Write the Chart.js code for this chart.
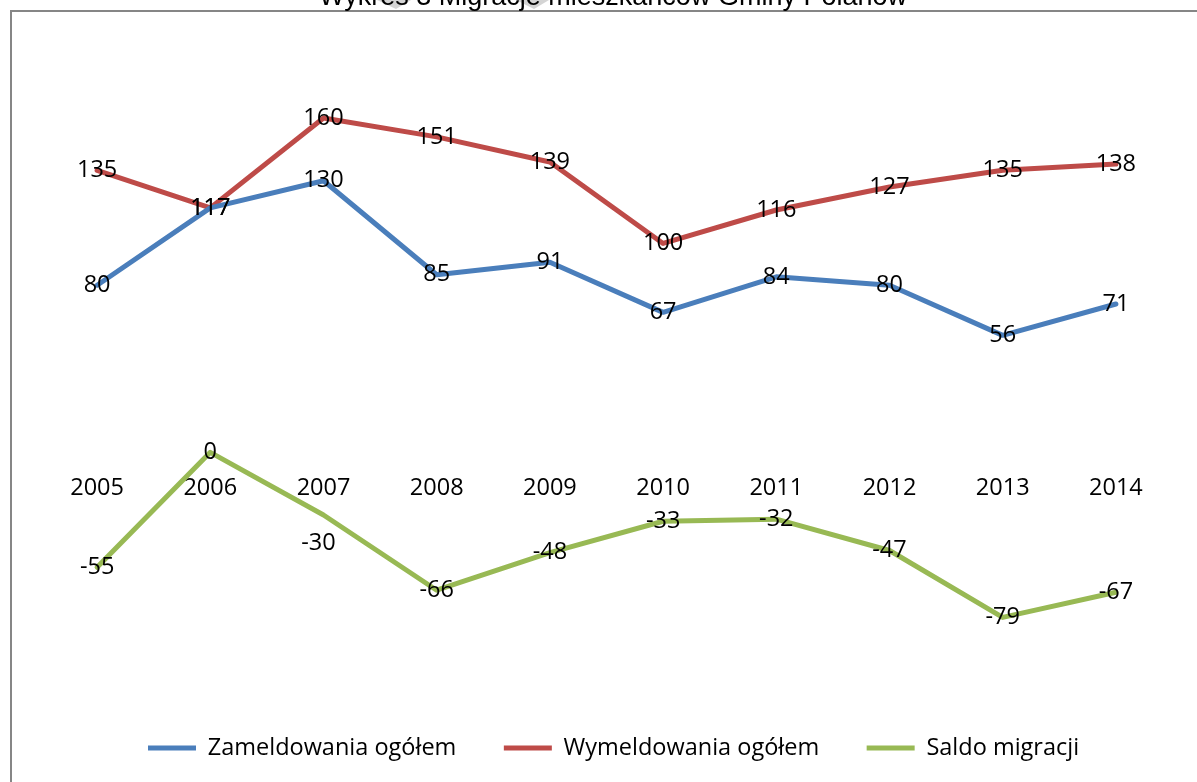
<!DOCTYPE html>
<html>
<head>
<meta charset="utf-8">
<script src="https://cdn.jsdelivr.net/npm/chart.js@4.4.1/dist/chart.umd.min.js"></script>
<style>
  html, body { margin: 0; padding: 0; background: #ffffff; }
  #wrap { position: relative; width: 1197px; height: 782px; }
</style>
</head>
<body>
<div id="wrap"><canvas id="c" width="1197" height="782"></canvas></div>
<script>
const categories = ['2005','2006','2007','2008','2009','2010','2011','2012','2013','2014'];
const zameldowania = [80, 117, 130, 85, 91, 67, 84, 80, 56, 71];
const wymeldowania = [135, 117, 160, 151, 139, 100, 116, 127, 135, 138];
const saldo = [-55, 0, -30, -66, -48, -33, -32, -47, -79, -67];
const seriesNames = ['Zameldowania ogółem', 'Wymeldowania ogółem', 'Saldo migracji'];
const seriesColors = ['#4A7EBB', '#BE4B48', '#98B954'];
const titleText = 'Wykres 3 Migracje mieszkańców Gminy Polanów';

const FONT = 'Open Sans';
const FSIZE = 23.5;
const LEG_PAD = 47.5;

const decor = {
  id: 'decor',
  beforeDraw(chart) {
    const ctx = chart.ctx;
    ctx.save();
    ctx.fillStyle = '#d4d4d4';
    ctx.beginPath();
    ctx.moveTo(377, 0); ctx.lineTo(411, 0); ctx.lineTo(396, 9); ctx.closePath(); ctx.fill();
    ctx.beginPath();
    ctx.moveTo(516, 0); ctx.lineTo(549, 0); ctx.lineTo(534, 9); ctx.closePath(); ctx.fill();
    ctx.strokeStyle = '#868686';
    ctx.lineWidth = 2;
    ctx.strokeRect(11, 11, 1200, 800);
    ctx.fillStyle = '#000';
    ctx.font = '27px "Liberation Sans"';
    ctx.textAlign = 'center';
    ctx.textBaseline = 'alphabetic';
    ctx.fillText(titleText, 613, 5);
    ctx.restore();
  }
};

const legendPlacer = {
  id: 'legendPlacer',
  afterLayout(chart) {
    const l = chart.legend;
    if (!l || !l.lineWidths) return;
    const startX = (l.left + LEG_PAD + l.right - l.lineWidths[0]) / 2;
    const dx = 148 - startX;
    l.left += dx; l.right += dx;
    const textCenter = l.top + LEG_PAD + FSIZE / 2;
    const dy = 748 - textCenter;
    l.top += dy; l.bottom += dy;
  }
};

const dataLabels = {
  id: 'dataLabels',
  afterDatasetsDraw(chart) {
    const ctx = chart.ctx;
    ctx.save();
    ctx.font = FSIZE + 'px "' + FONT + '"';
    ctx.fillStyle = '#000';
    ctx.textAlign = 'center';
    ctx.textBaseline = 'middle';
    chart.data.datasets.forEach((ds, i) => {
      const meta = chart.getDatasetMeta(i);
      meta.data.forEach((pt, j) => {
        let dx = 0, dy = 0;
        if (i === 2 && j === 2) { dx = -5; dy = 28; }
        ctx.fillText(String(ds.data[j]), pt.x + dx, pt.y + dy);
      });
    });
    ctx.restore();
  }
};

const common = { fill: false, tension: 0, pointRadius: 0, pointHoverRadius: 0, borderWidth: 5, borderCapStyle: 'round', borderJoinStyle: 'round' };

new Chart(document.getElementById('c'), {
  type: 'line',
  data: {
    labels: categories,
    datasets: [
      Object.assign({ label: seriesNames[0], data: zameldowania, borderColor: seriesColors[0], backgroundColor: seriesColors[0] }, common),
      Object.assign({ label: seriesNames[1], data: wymeldowania, borderColor: seriesColors[1], backgroundColor: seriesColors[1] }, common),
      Object.assign({ label: seriesNames[2], data: saldo, borderColor: seriesColors[2], backgroundColor: seriesColors[2] }, common)
    ]
  },
  options: {
    responsive: false,
    animation: false,
    layout: { padding: { top: 34.5, left: 40.5, right: 24.5, bottom: 39.75 } },
    scales: {
      x: {
        position: { y: 0 },
        offset: true,
        grid: { display: false, drawTicks: false },
        border: { display: false },
        ticks: { padding: 22, color: '#000', font: { family: FONT, size: FSIZE }, maxRotation: 0 }
      },
      y: {
        display: false,
        min: -100, max: 200
      }
    },
    plugins: {
      legend: {
        position: 'bottom',
        labels: {
          usePointStyle: true, pointStyle: 'line', pointStyleWidth: 48,
          color: '#000', font: { family: FONT, size: FSIZE }, padding: LEG_PAD
        }
      },
      tooltip: { enabled: false }
    }
  },
  plugins: [decor, legendPlacer, dataLabels]
});
</script>
</body>
</html>
